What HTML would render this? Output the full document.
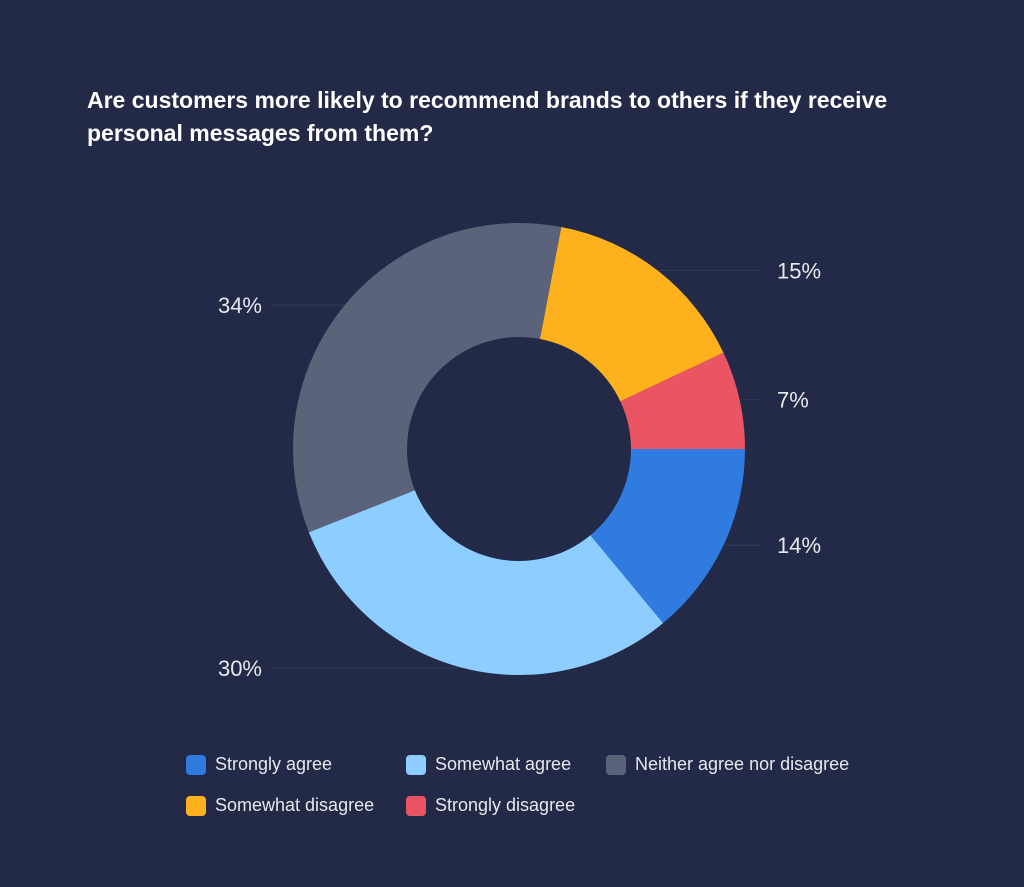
<!DOCTYPE html>
<html><head><meta charset="utf-8"><style>
body{margin:0;width:1024px;height:887px;background:#232a47;font-family:"Liberation Sans",sans-serif;overflow:hidden;position:relative}
h1{position:absolute;left:87px;top:84px;margin:0;color:#fff;font-size:23px;font-weight:bold;line-height:33px;width:880px}
.leg{position:absolute;color:#e6e8ee;font-size:18px;display:flex;align-items:center}
.sw{width:20px;height:20px;border-radius:4px;margin-right:9px}
</style></head><body>
<h1>Are customers more likely to recommend brands to others if they receive personal messages from them?</h1>
<svg id="chart" width="1024" height="887" style="position:absolute;left:0;top:0"></svg>
<div class="leg" style="left:186px;top:754px"><span class="sw" style="background:#2f7be0"></span>Strongly agree</div>
<div class="leg" style="left:406px;top:754px"><span class="sw" style="background:#8ecdff"></span>Somewhat agree</div>
<div class="leg" style="left:606px;top:754px"><span class="sw" style="background:#5a6379"></span>Neither agree nor disagree</div>
<div class="leg" style="left:186px;top:795px"><span class="sw" style="background:#fdb11d"></span>Somewhat disagree</div>
<div class="leg" style="left:406px;top:795px"><span class="sw" style="background:#ea5463"></span>Strongly disagree</div>
<script>
const categories=["Strongly agree","Somewhat agree","Neither agree nor disagree","Somewhat disagree","Strongly disagree"];
const values=[14,30,34,15,7];
const labels=["14%","30%","34%","15%","7%"];
const colors=["#2f7be0","#8ecdff","#5a6379","#fdb11d","#ea5463"];
const svg=document.getElementById('chart');
const NS='http://www.w3.org/2000/svg';
const cx=519,cy=449,R=226,r=112;
const total=values.reduce((a,b)=>a+b,0);
let a0=0;
values.forEach((v,i)=>{
  const a1=a0+v/total*2*Math.PI;
  const large=(a1-a0)>Math.PI?1:0;
  const p=(rad,a)=>[cx+rad*Math.cos(a),cy+rad*Math.sin(a)];
  const [x0,y0]=p(R,a0),[x1,y1]=p(R,a1),[x2,y2]=p(r,a1),[x3,y3]=p(r,a0);
  const path=document.createElementNS(NS,'path');
  path.setAttribute('d',`M${x0} ${y0}A${R} ${R} 0 ${large} 1 ${x1} ${y1}L${x2} ${y2}A${r} ${r} 0 ${large} 0 ${x3} ${y3}Z`);
  path.setAttribute('fill',colors[i]);
  
  
  svg.appendChild(path);
  const mid=(a0+a1)/2;
  const ly=cy+R*Math.sin(mid);
  const right=Math.cos(mid)>=0;
  const ex=cx+R*Math.cos(mid);
  const line=document.createElementNS(NS,'line');
  line.setAttribute('x1',ex);line.setAttribute('y1',ly);
  line.setAttribute('x2',right?760:272);line.setAttribute('y2',ly);
  line.setAttribute('stroke','#323a58');line.setAttribute('stroke-width','1');
  
  
  svg.insertBefore(line,svg.firstChild);
  const t=document.createElementNS(NS,'text');
  t.setAttribute('x',right?777:262);t.setAttribute('y',ly+8);
  t.setAttribute('text-anchor',right?'start':'end');
  t.setAttribute('fill','#e6e8ee');t.setAttribute('font-size','22');
  t.setAttribute('font-family','Liberation Sans, sans-serif');
  t.textContent=labels[i];
  
  
  svg.appendChild(t);
  a0=a1;
});
</script>
</body></html>
